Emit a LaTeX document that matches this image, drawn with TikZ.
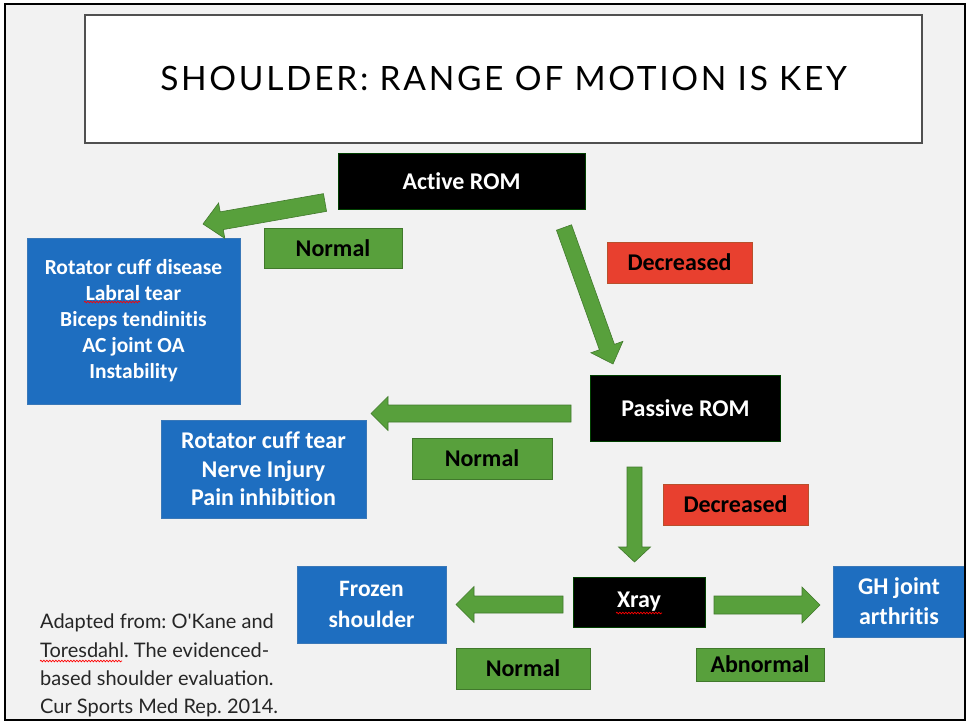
\documentclass[tikz,border=0pt]{standalone}
\usepackage{fontspec}
\setmainfont{Carlito}[Ligatures=NoCommon]
\newfontfamily\gill{Lato}
\newfontfamily\gilltitle{Lato}[LetterSpace=8]
\usetikzlibrary{calc,decorations.pathmorphing}
\frenchspacing
\definecolor{bgc}{HTML}{F2F2F2}
\definecolor{blueb}{HTML}{1E6EC0}
\definecolor{bluebd}{HTML}{3A78B8}
\definecolor{greenb}{HTML}{58A03C}
\definecolor{greenbd}{HTML}{41792C}
\definecolor{redb}{HTML}{E8402F}
\definecolor{redbd}{HTML}{B8502C}
\definecolor{titlebd}{HTML}{505050}
\tikzset{
  box/.style={rectangle, inner sep=0pt, align=center, font=\bfseries\fontsize{24}{29}\selectfont},
  blackbox/.style={box, fill=black, draw=black!75!green, line width=0.8pt, text=white},
  bluebox/.style={box, fill=blueb, draw=bluebd, line width=0.8pt, text=white},
  greenlab/.style={box, fill=greenb, draw=greenbd, line width=0.8pt, text=black},
  redlab/.style={box, fill=redb, draw=redbd, line width=0.8pt, text=black},
  titlebox/.style={rectangle, fill=white, draw=titlebd, line width=2.5pt, inner sep=0pt},
  garrowstyle/.style={fill=greenb, draw=greenbd, line width=0.6pt, line join=miter},
  squig/.style={draw=red, line width=0.7pt, decorate, decoration={snake, amplitude=0.8pt, segment length=3pt}},
}
% block arrow: tail, tip, half shaft, half head, head length
\newcommand\garrow[5]{%
  \coordinate (ga-b) at ($(#2)!#5!(#1)$);
  \draw[garrowstyle] ($(#1)!#3!90:(#2)$) -- ($(ga-b)!#3!90:(#2)$) -- ($(ga-b)!#4!90:(#2)$)
    -- (#2) -- ($(ga-b)!#4!-90:(#2)$) -- ($(ga-b)!#3!-90:(#2)$) -- ($(#1)!#3!-90:(#2)$) -- cycle;
}
\begin{document}
\begin{tikzpicture}[x=1pt,y=-1pt]
\useasboundingbox (0,0) rectangle (969,723);
\fill[white] (0,0) rectangle (969,723);
\fill[bgc] (5,4) rectangle (965,720);

% title
\node[titlebox, minimum width=837pt, minimum height=128pt] (title) at (503.5,79)
  {\gilltitle\fontsize{33.5}{40}\selectfont SHOULDER: RANGE OF MOTION IS KEY};

% main boxes
\node[blackbox, minimum width=247pt, minimum height=56pt] (active) at (461.5,181) {Active ROM};
\node[blackbox, minimum width=190pt, minimum height=66pt] (passive) at (685.5,408) {Passive ROM};
\node[blackbox, minimum width=132pt, minimum height=50pt] (xray) at (639,602) {Xray};

\node[bluebox, minimum width=213pt, minimum height=166pt, font=\bfseries\fontsize{21.5}{26}\selectfont] (blue1) at (133.5,321)
  {Rotator cuff disease\\Labral tear\\Biceps tendinitis\\AC joint OA\\Instability};
\node[bluebox, minimum width=205pt, minimum height=98pt, font=\bfseries\fontsize{24}{28.5}\selectfont] (blue2) at (263.5,469)
  {Rotator cuff tear\\Nerve Injury\\Pain inhibition};
\node[bluebox, minimum width=149pt, minimum height=77pt, font=\bfseries\fontsize{23.5}{31}\selectfont] (frozen) at (371.5,604.5)
  {Frozen\\shoulder};
\node[bluebox, minimum width=132pt, minimum height=71pt, font=\bfseries\fontsize{24}{30}\selectfont] (gh) at (899,601.5)
  {GH joint\\arthritis};

% labels
\node[greenlab, minimum width=138pt, minimum height=40pt] (n1) at (333,248.5) {Normal};
\node[greenlab, minimum width=140pt, minimum height=41pt] (n2) at (482,458.5) {Normal};
\node[greenlab, minimum width=134pt, minimum height=41pt] (n3) at (523,668.5) {Normal};
\node[greenlab, minimum width=128pt, minimum height=33pt] (abn) at (760,664.5) {Abnormal};
\node[redlab, minimum width=145pt, minimum height=41pt] (dec1) at (679.5,262.5) {Decreased};
\node[redlab, minimum width=145pt, minimum height=41pt] (dec2) at (735.5,504.5) {Decreased};

% arrow end points
\coordinate (a1t) at (325,202.5);  \coordinate (a1h) at (203,224);
\coordinate (a2t) at (564,227.5);  \coordinate (a2h) at (613,364);
\coordinate (a3t) at (571,413.5);  \coordinate (a3h) at (371,413.5);
\coordinate (a4t) at (634.5,467);  \coordinate (a4h) at (634.5,562);
\coordinate (a5t) at (714,605);    \coordinate (a5h) at (820,605);
\coordinate (a6t) at (563,604.5);  \coordinate (a6h) at (456,604.5);

\garrow{a1t}{a1h}{9pt}{18pt}{19pt}
\garrow{a2t}{a2h}{8pt}{17pt}{18pt}
\garrow{a3t}{a3h}{8.5pt}{17pt}{17pt}
\garrow{a4t}{a4h}{7.5pt}{16pt}{15pt}
\garrow{a5t}{a5h}{9pt}{18pt}{18pt}
\garrow{a6t}{a6h}{8.5pt}{18pt}{18pt}

% citation
\node[anchor=west, align=left, inner sep=0pt, text=black!85, font=\gill\fontsize{20}{28.3}\selectfont] (cite) at (40,665.5)
  {Adapted from: O'Kane and\\Toresdahl. The evidenced-\\based shoulder evaluation.\\Cur Sports Med Rep. 2014.};

% spell-check squiggles
\draw[squig] (84,302) -- (140,302);
\draw[squig] (616,613) -- (662,613);
\draw[squig] (40,661) -- (122,661);

% frame
\draw[black, line width=2pt] (5,4) rectangle (965,720);
\end{tikzpicture}
\end{document}
